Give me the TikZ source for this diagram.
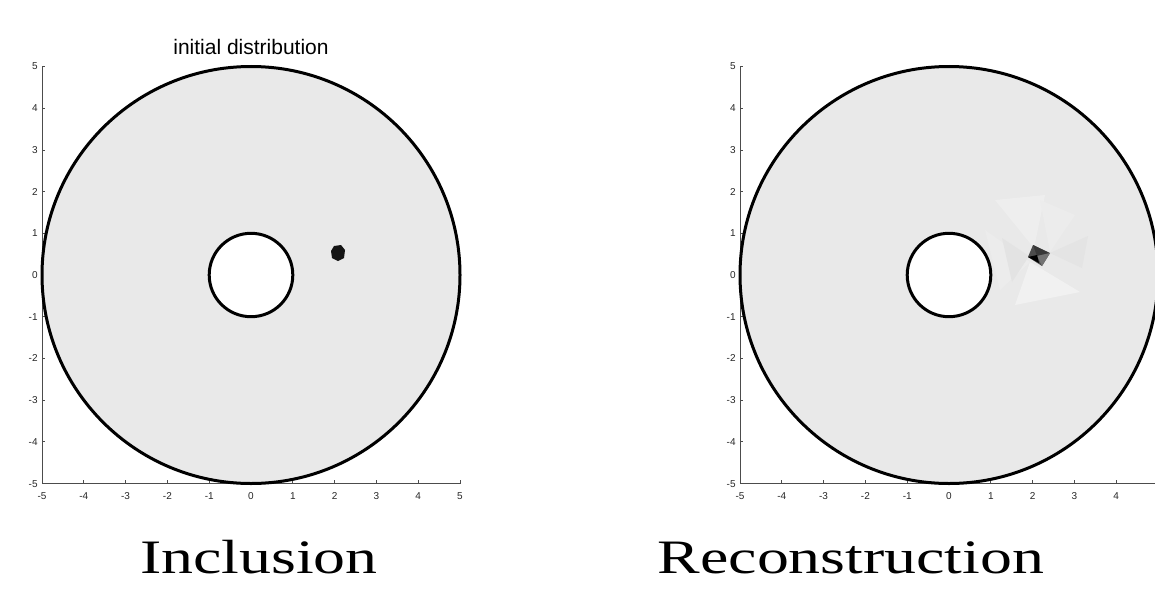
\documentclass[tikz,border=0pt]{standalone}
\usepackage{fontspec}
\setmainfont{Liberation Serif}
\setsansfont{Liberation Sans}
\definecolor{diskgray}{RGB}{233,233,233}
\begin{document}
\begin{tikzpicture}[x=1pt,y=-1pt,
  ax/.style={draw=black!70,line width=0.8pt},
  tk/.style={font=\fontsize{10}{11}\selectfont\sffamily,text=black!85,inner sep=0pt,text height=7pt,text depth=0pt},
  bord/.style={line width=3pt,draw=black},
  caption/.style={font=\fontsize{48}{52}\selectfont,inner sep=0pt,anchor=base,xscale=1.33,transform shape}]
\useasboundingbox (0,0) rectangle (1155,594);
\newcommand\myplot[3]{%
 \begin{scope}[shift={(#2,#3)},x=41.8pt,y=41.7pt]
  \draw[ax] (-5,5) -- (-5,-5) -- (5,-5);
  \foreach \i in {-5,...,5}{%
    \draw[ax] (\i,-5) -- (\i,-4.92);
    \draw[ax] (-5,\i) -- (-4.92,\i);
    \node[tk,anchor=north] (#1x\i) at (\i,-5.2) {\i};
    \node[tk,anchor=east] (#1y\i) at (-5.1,\i) {\i};
  }
  \fill[diskgray] (0,0) circle[radius=5];
 \end{scope}}
\newcommand\myrings[3]{%
 \begin{scope}[shift={(#2,#3)},x=41.8pt,y=41.7pt]
  \fill[white] (0,0) circle[radius=1];
  \draw[bord] (0,0) circle[radius=5];
  \draw[bord] (0,0) circle[radius=1];
 \end{scope}}
% left plot
\myplot{L}{251}{275}
\fill[black!92] (334,246) -- (341,245) -- (345,250) -- (344,258) -- (338,261) -- (332,258) -- (331,251) -- cycle;
\myrings{L}{251}{275}
\node[font=\fontsize{21}{24}\selectfont\sffamily,anchor=base,inner sep=0pt] (title) at (251,55) {initial distribution};
% right plot
\myplot{R}{949}{275}
\fill[black!6.5] (995,200) -- (1045,195) -- (1034,248) -- cycle;
\fill[black!5.5] (1030,262) -- (1080,292) -- (1015,305) -- cycle;
\fill[black!7.5] (985,230) -- (1030,262) -- (1000,290) -- cycle;
\fill[black!11] (1002,238) -- (1029,256) -- (1012,282) -- cycle;
\fill[black!10.5] (1050,253) -- (1088,236) -- (1082,268) -- cycle;
\fill[black!7.5] (1040,200) -- (1075,215) -- (1050,252) -- cycle;
\fill[black!70] (1033,245) -- (1050,253) -- (1042,266) -- (1028,257) -- cycle;
\fill[black!78] (1033,245) -- (1049,253) -- (1037,256) -- cycle;
\fill[black!55] (1037,256) -- (1050,253) -- (1042,266) -- cycle;
\fill[black] (1028,257) -- (1037,255) -- (1039,263) -- cycle;
\myrings{R}{949}{275}
% captions
\node[caption] (inc) at (259,573) {Inclusion};
\node[caption] (rec) at (851,573) {Reconstruction};
\end{tikzpicture}
\end{document}
